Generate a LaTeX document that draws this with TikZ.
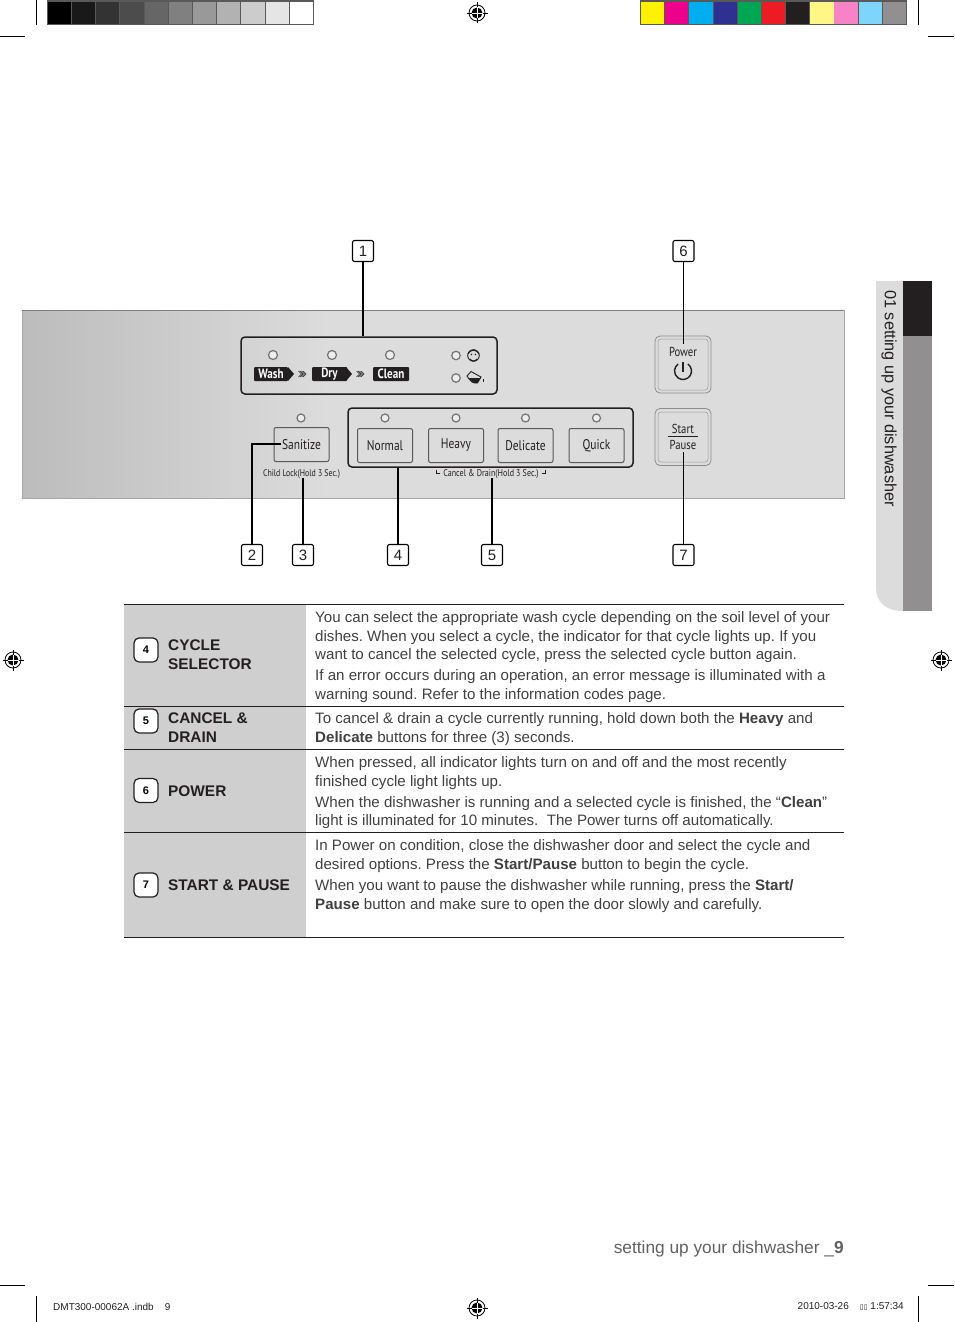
\documentclass[tikz,border=0pt]{standalone}
\usepackage{fontspec}
\setmainfont{Liberation Sans}
\newfontfamily\panelfont[FakeStretch=0.82]{PT Sans}
\newfontfamily\symbfont{DejaVu Sans}
\frenchspacing
\definecolor{samsungcolor0001}{RGB}{35,31,32}
\definecolor{samsungcolor0002}{RGB}{145,143,144}
\definecolor{samsungcolor0003}{RGB}{220,220,220}
\definecolor{samsungcolor0004}{RGB}{207,207,207}
\definecolor{samsungcolor0005}{RGB}{64,64,64}
\definecolor{samsungcolor0006}{RGB}{89,89,89}
\definecolor{samsungcolor0007}{RGB}{188,188,188}
\begin{document}
\begin{tikzpicture}[yscale=-1
,pstyle0/.style={draw=samsungcolor0001,line width=1.5pt,rounded corners=4pt}
,pstyle1/.style={draw=black!65,line width=1pt,rounded corners=2pt,minimum width=55pt,minimum height=34pt,inner sep=0,font=\panelfont\fontsize{14}{14}\selectfont,text=samsungcolor0001}
,pstyle2/.style={draw=black!55,fill=black!7,line width=1.2pt,circle,minimum size=9pt,inner sep=0}
,pstyle3/.style={draw=black,fill=white,line width=1.1pt,rounded corners=2pt,minimum size=21pt,inner sep=0,font=\fontsize{15}{15}\selectfont,text=samsungcolor0001}
,pstyle4/.style={color=black,line width=1.4pt}
,pstyle5/.style={color=black,line width=0.6pt}
,pstyle6/.style={color=samsungcolor0001,line width=1pt}
,pstyle7/.style={draw=samsungcolor0001,fill=white,line width=1.2pt,rounded corners=5pt,minimum size=24pt,inner sep=0,font=\bfseries\fontsize{11}{11}\selectfont}
,pstyle8/.style={anchor=north west,inner sep=0,align=left,text=samsungcolor0005,font=\fontsize{15.1}{18.6}\selectfont}
,pstyle9/.style={anchor=north west,inner sep=0,align=left,text=samsungcolor0001,font=\bfseries\fontsize{15.4}{18.6}\selectfont}
,pstyle10/.style={fill=samsungcolor0001,text=white,inner sep=0,minimum height=14pt,font=\panelfont\bfseries\fontsize{13.5}{13.5}\selectfont}
,pstyle11/.style={draw=black!45,line width=0.8pt,rounded corners=5pt,minimum width=56pt,minimum height=57pt,inner sep=0}
,regmark/.pic={
  \draw[line width=0.8pt,fill=white] (0,0) circle (8pt);
  \fill[black] (0,0) circle (5.5pt);
  \draw[line width=0.8pt] (-10.5pt,0) -- (10.5pt,0) (0,-10.5pt) -- (0,10.5pt);
  \draw[white,line width=0.8pt] (-5.5pt,0) -- (5.5pt,0) (0,-5.5pt) -- (0,5.5pt);
}
,chevrons/.pic={
  \foreach \dx in {0,1.5,3,4.5}
    \draw[line width=0.5pt,samsungcolor0001] (-4.5pt+\dx pt,-3pt) -- (-1.5pt+\dx pt,0) -- (-4.5pt+\dx pt,3pt);
}
]
\useasboundingbox (0pt,0pt) rectangle (954pt,1322pt);
% colour bars
\fill[samsungcolor0006] (47pt,0pt) rectangle (314pt,25.5pt);
\foreach \idx/\shade in {0/100,1/90,2/80,3/70,4/60,5/50,6/40,7/30,8/20,9/10,10/0}
  \fill[black!\shade] (47.7pt+\idx*24.2pt,2pt) rectangle (71pt+\idx*24.2pt,24pt);
\fill[samsungcolor0006] (640pt,0pt) rectangle (907pt,25.5pt);
\foreach \idx/\r/\g/\b in {0/255/242/0,1/236/0/140,2/0/174/239,3/46/49/146,4/0/166/81,5/237/28/36,6/35/31/32,7/255/246/133,8/247/130/198,9/125/213/251,10/145/143/144}{
  \definecolor{swatchcolor}{RGB}{\r,\g,\b}
  \fill[swatchcolor] (641pt+\idx*24.17pt,2pt) rectangle (664.3pt+\idx*24.17pt,24pt);
}
% crop marks
\draw[pstyle5] (36.5pt,0pt) -- (36.5pt,25pt);
\draw[pstyle5] (0pt,36.5pt) -- (25pt,36.5pt);
\draw[pstyle5] (918.5pt,0pt) -- (918.5pt,25pt);
\draw[pstyle5] (928pt,36.5pt) -- (954pt,36.5pt);
\draw[pstyle5] (0pt,1285.5pt) -- (25pt,1285.5pt);
\draw[pstyle5] (36.5pt,1296pt) -- (36.5pt,1322pt);
\draw[pstyle5] (928pt,1285.5pt) -- (954pt,1285.5pt);
\draw[pstyle5] (918.5pt,1296pt) -- (918.5pt,1322pt);
\pic at (477pt,13pt) {regmark};
\pic at (13pt,660pt) {regmark};
\pic at (941pt,660pt) {regmark};
\pic at (477pt,1308pt) {regmark};
% side tab
\fill[samsungcolor0003] (903pt,281pt) -- (876pt,281pt) -- (876pt,588pt) .. controls (876pt,603pt) and (887pt,611pt) .. (903pt,611pt) -- cycle;
\fill[samsungcolor0002] (903pt,281pt) rectangle (932pt,611pt);
\fill[samsungcolor0001] (903pt,281pt) rectangle (932pt,336pt);
\node (sidetext) at (889pt,398.5pt)[rotate=-90,inner sep=0,text=samsungcolor0001,font=\fontsize{16.3}{16.3}\selectfont]{01 setting up your dishwasher};
% panel
\shade[left color=samsungcolor0007,right color=samsungcolor0003] (22pt,310pt) rectangle (330pt,498pt);
\fill[samsungcolor0003] (330pt,310pt) rectangle (844pt,498pt);
\draw[black!35,line width=0.6pt] (22pt,310pt) rectangle (844pt,498pt);
\draw[black!50,line width=0.8pt] (22pt,310pt) -- (844pt,310pt);
% wash group
\node (washgroup) at (369pt,365.5pt)[pstyle0,minimum width=256pt,minimum height=57pt]{};
\node (washled) at (273pt,355pt)[pstyle2]{};
\node (dryled) at (332pt,355pt)[pstyle2]{};
\node (cleanled) at (390pt,355pt)[pstyle2]{};
\node (babyled) at (456pt,355.5pt)[pstyle2,minimum size=8.5pt]{};
\node (potled) at (456pt,378pt)[pstyle2,minimum size=8.5pt]{};
\fill[samsungcolor0001] (288pt,367pt) -- (294pt,374pt) -- (288pt,381pt) -- cycle;
\fill[samsungcolor0001] (346pt,367pt) -- (352pt,374pt) -- (346pt,381pt) -- cycle;
\node (washlabel) at (271pt,374pt)[pstyle10,minimum width=34pt,rounded corners=1pt]{Wash};
\node (drylabel) at (329.5pt,374pt)[pstyle10,minimum width=35pt,rounded corners=1pt]{Dry};
\node (cleanlabel) at (391pt,374pt)[pstyle10,minimum width=36pt,rounded corners=1pt]{Clean};
\pic at (303pt,374pt) {chevrons};
\pic at (361pt,374pt) {chevrons};
% baby and pot icons
\draw[line width=0.9pt,samsungcolor0001] (473.5pt,355.5pt) circle (5.8pt);
\draw[line width=1pt,samsungcolor0001] (468pt,354pt) .. controls (470pt,349pt) and (477pt,349pt) .. (479pt,354pt);
\draw[line width=0.9pt,samsungcolor0001] (470pt,359pt) .. controls (472pt,361.5pt) and (475pt,361.5pt) .. (477pt,359pt);
\fill[samsungcolor0001] (471.5pt,354.5pt) circle (0.8pt) (475.5pt,354.5pt) circle (0.8pt);
\draw[line width=0.9pt,samsungcolor0001,fill=samsungcolor0003] (467pt,376pt) -- (471pt,371.5pt) -- (481pt,377pt) -- (477.5pt,383pt) .. controls (473pt,384pt) and (470pt,381pt) .. cycle;
\fill[samsungcolor0001] (469pt,378pt) -- (480pt,378pt) -- (477.5pt,383pt) .. controls (474pt,384pt) and (471pt,381pt) .. cycle;
\fill[samsungcolor0001] (483pt,379pt) rectangle (484.4pt,382pt);
% cycle buttons
\node (sanitizeled) at (301pt,418pt)[pstyle2,minimum size=8pt]{};
\node (sanitize) at (301.5pt,444.5pt)[pstyle1]{Sanitize};
\node (childlock) at (301.5pt,474pt)[inner sep=0,text=samsungcolor0001,font=\panelfont\fontsize{9.6}{9.6}\selectfont]{Child Lock(Hold 3 Sec.)};
\node (cyclegroup) at (490.5pt,437.5pt)[pstyle0,minimum width=285pt,minimum height=59pt]{};
\foreach \btn/\xpos in {Normal/385,Heavy/456,Delicate/525.5,Quick/596.5}{
  \node (led\btn) at (\xpos pt,418pt)[pstyle2,minimum size=8pt]{};
  \node (btn\btn) at (\xpos pt,445.5pt)[pstyle1]{\btn};
}
\node (canceltext) at (491pt,474pt)[inner sep=0,text=samsungcolor0001,font=\panelfont\fontsize{9.8}{9.8}\selectfont]{Cancel \& Drain(Hold 3 Sec.)};
\draw[line width=0.5pt,samsungcolor0001] (436.5pt,470pt) -- (436.5pt,473pt) -- (440pt,473pt);
\draw[line width=0.5pt,samsungcolor0001] (545.5pt,470pt) -- (545.5pt,473pt) -- (542pt,473pt);
% power and start
\node (powerbtn) at (683pt,364.5pt)[pstyle11]{};
\draw[black!40,line width=0.5pt,rounded corners=3pt] (658pt,339pt) rectangle (708pt,390pt);
\node (powertext) at (683pt,352pt)[inner sep=0,text=samsungcolor0001,font=\panelfont\fontsize{13}{13}\selectfont]{Power};
\draw[line width=1.4pt,samsungcolor0001] (683pt,371pt) ++(-55:8.5pt) arc (-55:235:8.5pt);
\draw[line width=1.4pt,samsungcolor0001] (683pt,362pt) -- (683pt,372pt);
\node (startbtn) at (683pt,437pt)[pstyle11]{};
\draw[black!40,line width=0.5pt,rounded corners=3pt] (658pt,412pt) rectangle (708pt,462pt);
\node (starttext) at (683pt,429pt)[inner sep=0,text=samsungcolor0001,font=\panelfont\fontsize{13}{13}\selectfont]{Start};
\draw[line width=0.7pt,samsungcolor0001] (668pt,436.5pt) -- (698pt,436.5pt);
\node (pausetext) at (683pt,445pt)[inner sep=0,text=samsungcolor0001,font=\panelfont\fontsize{13}{13}\selectfont]{Pause};
% callouts
\node (num1) at (363pt,251pt)[pstyle3]{1};
\node (num6) at (683.5pt,251pt)[pstyle3]{6};
\node (num2) at (252pt,555pt)[pstyle3]{2};
\node (num3) at (303pt,555pt)[pstyle3]{3};
\node (num4) at (398pt,555pt)[pstyle3]{4};
\node (num5) at (492pt,555pt)[pstyle3]{5};
\node (num7) at (683.5pt,555pt)[pstyle3]{7};
\coordinate (end6) at (683.5pt,344pt);
\coordinate (end7) at (683.5pt,452pt);
\coordinate (end2) at (281pt,444pt);
\coordinate (end3) at (303pt,478pt);
\coordinate (end5) at (492pt,478pt);
\draw[pstyle4] (num1) -- (num1 |- washgroup.north);
\draw[pstyle4] (num2) |- (end2);
\draw[pstyle4] (num3) -- (end3);
\draw[pstyle4] (num4) -- (num4 |- cyclegroup.south);
\draw[pstyle4] (num5) -- (end5);
\draw[pstyle5] (num6) -- (end6);
\draw[pstyle5] (num7) -- (end7);
% table
\fill[samsungcolor0004] (124pt,604pt) rectangle (305.5pt,937pt);
\draw[pstyle6] (124pt,604.5pt) -- (844pt,604.5pt);
\draw[pstyle6] (124pt,706.5pt) -- (844pt,706.5pt);
\draw[pstyle6] (124pt,749.5pt) -- (844pt,749.5pt);
\draw[pstyle6] (124pt,832.5pt) -- (844pt,832.5pt);
\draw[pstyle6] (124pt,937.5pt) -- (844pt,937.5pt);
\node (badge4) at (146pt,650pt)[pstyle7]{4};
\node (badge5) at (146pt,721pt)[pstyle7]{5};
\node (badge6) at (146pt,790.5pt)[pstyle7]{6};
\node (badge7) at (146pt,885pt)[pstyle7]{7};
\node (title4) at (168pt,639.5pt)[pstyle9]{CYCLE\\SELECTOR};
\node (title5) at (168pt,712.5pt)[pstyle9]{CANCEL \&\\DRAIN};
\node (title6) at (168pt,785.5pt)[pstyle9]{POWER};
\node (title7) at (168pt,879.5pt)[pstyle9]{START \& PAUSE};
\node (desc4) at (315pt,611.5pt)[pstyle8]{You can select the appropriate wash cycle depending on the soil level of your\\dishes. When you select a cycle, the indicator for that cycle lights up. If you\\want to cancel the selected cycle, press the selected cycle button again.\\[2pt]If an error occurs during an operation, an error message is illuminated with a\\warning sound. Refer to the information codes page.};
\node (desc5) at (315pt,712.5pt)[pstyle8]{To cancel \& drain a cycle currently running, hold down both the \textbf{Heavy} and\\\textbf{Delicate} buttons for three (3) seconds.};
\node (desc6) at (315pt,756.5pt)[pstyle8]{When pressed, all indicator lights turn on and off and the most recently\\finished cycle light lights up.\\[2.5pt]When the dishwasher is running and a selected cycle is finished, the “\textbf{Clean}”\\light is illuminated for 10 minutes.\ \ The Power turns off automatically.};
\node (desc7) at (315pt,839.5pt)[pstyle8]{In Power on condition, close the dishwasher door and select the cycle and\\desired options. Press the \textbf{Start/Pause} button to begin the cycle.\\[3pt]When you want to pause the dishwasher while running, press the \textbf{Start/}\\\textbf{Pause} button and make sure to open the door slowly and carefully.};
% footer
\node (pagefoot) at (844pt,1249.5pt)[anchor=east,inner sep=0,text=black!62,font=\fontsize{17.3}{17.3}\selectfont]{setting up your dishwasher \_\textbf{9}};
\node (slugleft) at (53pt,1306.5pt)[anchor=west,inner sep=0,text=samsungcolor0001,font=\fontsize{10}{10}\selectfont]{DMT300-00062A .indb\ \ \ \ 9};
\node (slugright) at (904pt,1306.5pt)[anchor=east,inner sep=0,text=samsungcolor0001,font=\fontsize{10}{10}\selectfont]{2010-03-26\ \ \ \ {\symbfont\fontsize{7}{7}\selectfont ▯▯} 1:57:34};
\end{tikzpicture}
\end{document}
